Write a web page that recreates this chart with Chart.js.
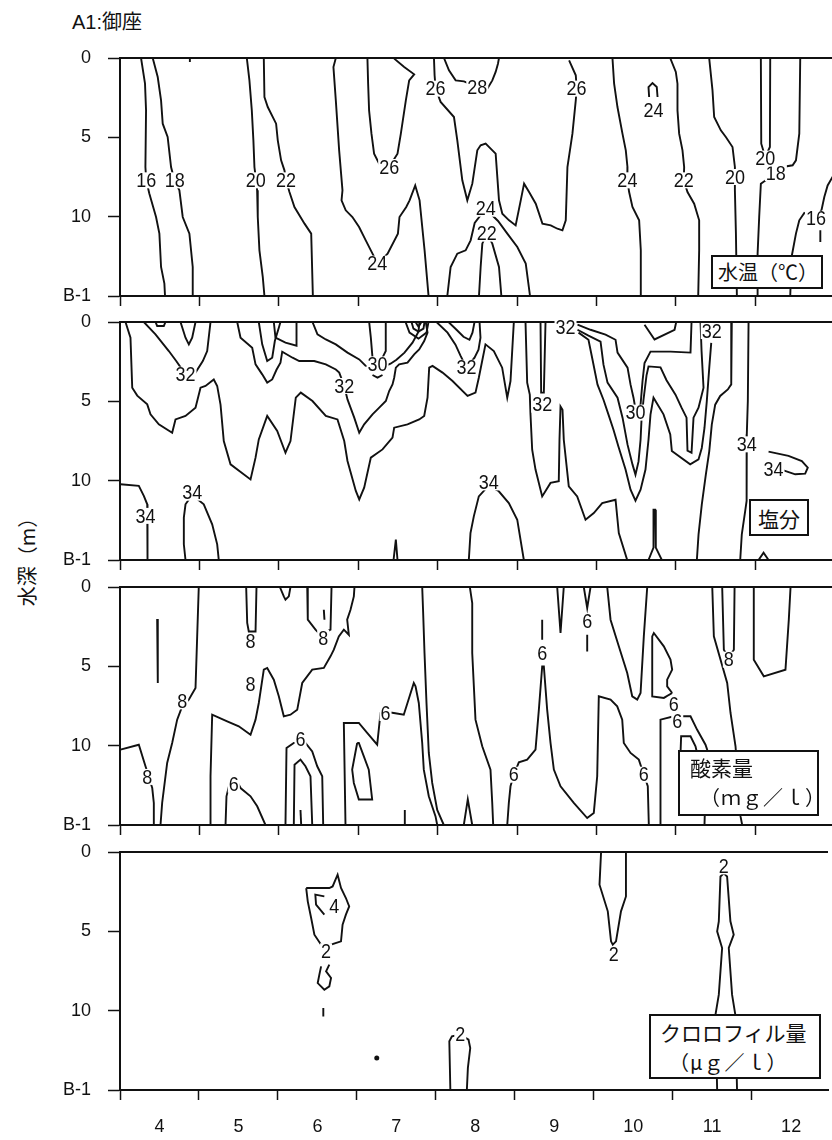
<!DOCTYPE html>
<html>
<head>
<meta charset="utf-8">
<script src="https://cdn.jsdelivr.net/npm/chart.js@4.4.1/dist/chart.umd.min.js"></script>
<style>
  body { margin: 0; background: #fff; }
  #page { position: relative; width: 832px; height: 1140px; overflow: hidden; color: #111;
          font-family: "Liberation Sans", Arial, "Noto Sans CJK JP", sans-serif; }
  canvas { position: absolute; left: 0; }
  .title { position: absolute; left: 72px; top: 6px; font-size: 20px; }
  .ytitle { position: absolute; left: 26px; top: 557px; transform: translate(-50%, -50%) rotate(-90deg);
            font-size: 20px; white-space: nowrap; font-family: "Noto Sans CJK JP", sans-serif; }
  .box { position: absolute; box-sizing: border-box; border: 2px solid #111; background: #fff; z-index: 2;
         font-family: "Noto Sans CJK JP", sans-serif; font-size: 20px; line-height: 1; }
  .box span { position: absolute; white-space: nowrap; }
</style>
</head>
<body>
<div id="page">
  <div class="title">A1:御座</div>
  <div class="ytitle">水深（m）</div>
  <canvas id="temp" width="832" height="264" style="top:44px"></canvas>
  <canvas id="salt" width="832" height="264" style="top:308px"></canvas>
  <canvas id="oxy" width="832" height="264" style="top:573px"></canvas>
  <canvas id="chl" width="832" height="302" style="top:838px"></canvas>
  <div class="box" style="left:711px;top:255px;width:112px;height:34px"><span style="left:5px;top:5px">水温（℃）</span></div>
  <div class="box" style="left:749px;top:499px;width:60px;height:37px"><span style="left:7px;top:7px;font-size:21px">塩分</span></div>
  <div class="box" style="left:678px;top:750px;width:141px;height:66px">
    <span style="left:10px;top:5px;font-size:21px">酸素量</span>
    <span style="left:20px;top:35px;letter-spacing:1px">（ｍｇ／ｌ）</span>
  </div>
  <div class="box" style="left:649px;top:1014px;width:172px;height:65px">
    <span style="left:9px;top:6px;font-size:21px">クロロフィル量</span>
    <span style="left:18px;top:36px;letter-spacing:1px">（μｇ／ｌ）</span>
  </div>
</div>
<script>
const INK = '#111';

// axes
const months = [4, 5, 6, 7, 8, 9, 10, 11, 12];
const monthEdges = [3.5, 4.5, 5.5, 6.5, 7.5, 8.5, 9.5, 10.5, 11.5];
const depthTicks = [0, 5, 10, 15];
const depthLabels = ['0', '5', '10', 'B-1'];

// 水温 contours: [month, depth]
const temp16 = [[3.765,0],[3.815,1.62],[3.828,3.3],[3.82,6.87],[3.83,7.7],[3.87,8.55],[3.954,10.02],[3.996,11.07],[4.017,13.17],[4.059,14.22],[4.067,15]];
const temp18 = [[3.912,0],[3.975,1.2],[4.017,2.67],[4.038,4.14],[4.1,4.98],[4.143,6.87],[4.185,7.71],[4.248,8.34],[4.29,10.02],[4.374,11.07],[4.416,13.17],[4.416,15]];
const temp18Notch = [[4.38,0],[4.38,0.25]];
const temp20 = [[5.097,0],[5.13,1.41],[5.16,3.3],[5.18,5.19],[5.193,6.87],[5.214,7.71],[5.227,8.34],[5.235,10.02],[5.256,12.12],[5.298,13.8],[5.319,15]];
const temp22 = [[5.311,0],[5.319,2.46],[5.361,3.09],[5.466,4.14],[5.487,5.19],[5.529,6.45],[5.571,7.08],[5.592,7.71],[5.634,8.45],[5.697,9.39],[5.824,10.44],[5.908,11.07],[5.929,15]];
const temp24West = [[6.218,0],[6.188,0.57],[6.218,2.67],[6.26,5.82],[6.302,8.34],[6.29,8.97],[6.343,9.6],[6.427,10.02],[6.511,10.65],[6.595,11.49],[6.68,12.33],[6.74,12.9],[6.79,12.75],[6.87,12.33],[7.0,11.07],[7.02,10.02],[7.105,9.39],[7.147,8.97],[7.218,8.03],[7.273,8.97],[7.336,12.12],[7.386,15]];
const temp26Loop = [[6.616,0],[6.625,1.62],[6.637,3.3],[6.667,4.77],[6.7,6.03],[6.764,6.66],[6.89,6.87],[6.995,6.03],[7.037,4.77],[7.1,2.67],[7.142,1.41],[7.205,1.03],[7.079,0.57],[6.953,0.04]];
const temp26 = [[7.454,0],[7.462,1.09],[7.475,1.93],[7.538,2.77],[7.706,3.72],[7.748,5.19],[7.811,7.71],[7.874,8.97],[7.937,7.92],[8.0,5.82],[8.042,5.5],[8.105,5.4],[8.168,5.71],[8.231,6.03],[8.273,8.97],[8.315,9.81],[8.4,10.23],[8.483,10.55],[8.547,8.97],[8.589,7.92],[8.652,8.45],[8.736,9.18],[8.82,10.44],[8.925,10.55],[9.009,10.76],[9.072,10.86],[9.114,10.23],[9.135,6.87],[9.198,4.77],[9.24,2.67],[9.252,1.93],[9.24,1.09],[9.156,0.15]];
const temp28 = [[7.58,0],[7.643,0.78],[7.727,1.41],[7.832,1.47],[8.0,1.83],[8.126,1.93],[8.189,1.41],[8.231,0.88],[8.26,0.36],[8.273,0]];
const temp24Arch = [[7.622,15],[7.664,13.17],[7.748,12.33],[7.853,12.12],[7.916,11.49],[7.967,10.4],[8.105,9.5],[8.261,10.27],[8.378,11.07],[8.504,11.91],[8.61,12.96],[8.664,15]];
const temp22Arch = [[8.021,15],[8.042,13.17],[8.063,11.7],[8.118,11.07],[8.189,11.7],[8.273,13.17],[8.303,15]];
const temp24East = [[9.702,0],[9.723,1.62],[9.765,3.09],[9.828,4.77],[9.87,5.82],[9.891,6.87],[9.89,7.71],[9.912,8.45],[9.954,9.39],[10.038,10.23],[10.059,12.12],[10.059,15]];
const temp24Ring = [[10.164,2.46],[10.156,1.83],[10.206,1.58],[10.26,1.83],[10.27,2.46]];
const temp22East = [[10.429,0],[10.5,0.88],[10.521,1.62],[10.521,3.3],[10.542,4.77],[10.584,5.82],[10.605,6.87],[10.6,7.71],[10.647,8.45],[10.731,9.18],[10.794,10.23],[10.794,12.12],[10.782,15]];
const temp20East = [[10.92,0],[10.962,2.04],[10.983,3.72],[11.067,4.56],[11.13,4.98],[11.214,5.61],[11.244,6.87],[11.244,7.5],[11.244,8.34],[11.257,11.07],[11.269,15]];
const temp20U = [[11.571,0],[11.576,5.4],[11.626,6.24],[11.685,5.61],[11.689,0]];
const temp18East = [[12.067,0],[12.055,4.77],[12.013,6.45],[11.971,6.76],[11.845,6.87],[11.76,7.25],[11.571,7.92],[11.55,10.02],[11.53,12.33],[11.53,15]];
const temp16East = [[12.479,7.46],[12.412,8.03],[12.37,8.76],[12.336,9.56],[12.265,10.13],[12.118,9.77],[12.055,10.23],[12.013,11.07],[11.958,12.54],[11.941,15]];
const temp16Tick = [[12.32,10.86],[12.32,11.6]];
const tempLabels = [[3.83,7.71,'16'],[4.19,7.71,'18'],[5.21,7.71,'20'],[5.59,7.71,'22'],[6.89,6.87,'26'],[6.74,12.96,'24'],
  [7.475,1.93,'26'],[8.0,1.83,'28'],[9.25,1.93,'26'],[8.105,9.5,'24'],[8.118,11.07,'22'],[9.89,7.71,'24'],[10.22,3.3,'24'],
  [10.6,7.71,'22'],[11.244,7.5,'20'],[11.76,7.25,'18'],[11.626,6.34,'20'],[12.265,10.13,'16']];

// 塩分 contours
const saltA = [[3.569,0],[3.632,0.99],[3.654,4.14],[3.717,4.64],[3.843,5.19],[3.884,5.82],[3.989,6.45],[4.157,6.98],[4.199,6.14],[4.325,5.92],[4.451,5.4],[4.514,4.14],[4.577,4.03],[4.681,3.62],[4.724,4.03],[4.766,5.21],[4.807,7.5],[4.892,8.97],[5.144,9.92],[5.207,8.55],[5.248,7.4],[5.354,5.92],[5.48,6.87],[5.584,8.24],[5.647,7.5],[5.714,4.77],[5.777,4.45],[5.924,4.98],[6.092,5.92],[6.239,6.14],[6.324,7.5],[6.365,8.76],[6.47,10.65],[6.513,11.18],[6.575,10.44],[6.659,8.55],[6.806,8.03],[6.932,7.29],[6.953,6.66],[7.121,6.45],[7.268,6.14],[7.331,5.92],[7.373,4.77],[7.394,2.88],[7.436,2.77],[7.562,3.19],[7.688,3.72],[7.877,4.66],[7.977,4.45],[8.019,3.51],[8.103,1.41],[8.208,1.83],[8.313,2.88],[8.377,4.77],[8.418,3.72],[8.46,0]];
const saltB = [[3.8,0],[3.947,0.78],[4.115,1.83],[4.208,2.46],[4.325,3.3],[4.451,3.19],[4.543,2.46],[4.598,1.83],[4.64,0]];
const saltCup = [[3.947,0],[3.968,0.25],[4.052,0.25],[4.073,0]];
const saltV = [[4.262,0],[4.325,0.99],[4.367,1.41],[4.409,0.99],[4.451,0]];
const saltC = [[4.976,0],[5.018,0.99],[5.165,1.62],[5.207,2.67],[5.291,3.3],[5.354,3.82],[5.417,3.62],[5.471,3.01],[5.521,2.56],[5.543,1.87],[5.673,2.25],[5.757,2.46],[5.946,2.46],[6.092,2.67],[6.218,2.99],[6.261,3.19],[6.324,4.03],[6.365,4.88],[6.45,6.03],[6.513,6.98],[6.575,6.45],[6.68,5.82],[6.765,5.4],[6.848,4.98],[6.89,4.35],[6.932,3.93],[6.953,3.51],[6.974,2.88],[7.016,2.67],[7.121,2.56],[7.205,2.04],[7.268,1.73],[7.331,1.2],[7.373,0.67],[7.351,0]];
const saltV2 = [[5.248,0],[5.291,1.41],[5.354,2.46],[5.417,2.25],[5.45,1.2],[5.5,0.36],[5.521,0]];
const saltV3 = [[5.437,0],[5.458,0.99],[5.584,1.3],[5.723,1.49],[5.723,0]];
const saltD = [[5.924,0],[5.987,0.78],[6.092,1.1],[6.218,1.41],[6.365,1.93],[6.513,2.36],[6.592,2.75],[6.743,3.0],[6.907,2.63],[6.982,2.38],[7.083,1.93],[7.184,1.3],[7.259,0.61],[7.272,0]];
const salt30a = [[6.638,0],[6.659,0.99],[6.68,2.25]];
const salt30b = [[6.847,0],[6.847,1.83],[6.806,2.25]];
const salt30Tip = [[6.68,3.34],[6.743,3.51],[6.806,3.34]];
const saltRing1 = [[7.096,0],[7.146,0.67],[7.259,1.05],[7.36,0.67],[7.385,0]];
const saltRing2 = [[7.171,0],[7.196,0.42],[7.259,0.61],[7.322,0.42],[7.335,0]];
const saltRing3 = [[7.222,0],[7.259,0.3],[7.297,0]];
const saltE = [[7.486,0],[7.625,0.67],[7.725,1.43],[7.788,2.12],[7.864,2.88],[7.965,2.25],[8.015,1.75],[8.04,0.99],[8.028,0]];
const saltF = [[7.637,0],[7.738,0.49],[7.826,0.93],[7.901,1.12],[7.939,0.67],[7.965,0]];
const saltG = [[8.607,0],[8.628,3.82],[8.661,4.58],[8.67,5.84],[8.691,8.05],[8.733,9.3],[8.817,10.99],[8.922,10.14],[9.026,10.04],[9.035,7.42],[9.048,5.32],[9.073,5.53],[9.089,7.42],[9.152,10.36],[9.258,10.99],[9.363,12.46],[9.467,12.04],[9.573,11.41],[9.741,11.2],[9.782,13.3],[9.888,15]];
const saltThin = [[8.796,0],[8.804,4.45],[8.838,4.45],[8.859,0]];
const salt30 = [[9.262,0.17],[9.426,0.49],[9.615,0.8],[9.741,1.12],[9.766,1.93],[9.892,2.88],[9.93,3.95],[9.967,4.77],[9.992,5.5],[10.056,5.21],[10.081,3.71],[10.106,2.58],[10.181,1.87],[10.433,1.87],[10.685,1.93],[10.698,0]];
const salt31 = [[9.262,0.49],[9.4,0.86],[9.552,1.24],[9.589,2.69],[9.64,3.82],[9.766,4.77],[9.829,6.03],[9.892,7.73],[9.955,8.99],[9.992,9.62],[10.03,8.8],[10.056,7.42],[10.068,6.16],[10.093,4.9],[10.131,3.36],[10.156,2.8],[10.307,2.86],[10.383,3.67],[10.496,4.58],[10.572,5.4],[10.635,6.03],[10.647,8.11],[10.698,8.24],[10.723,6.03],[10.786,5.4],[10.849,4.14],[10.824,1.81],[10.811,0]];
const salt32 = [[9.275,0.67],[9.4,1.12],[9.451,2.38],[9.514,3.95],[9.589,4.9],[9.652,5.84],[9.715,6.79],[9.778,7.86],[9.867,9.3],[9.93,10.57],[9.992,11.26],[10.056,10.57],[10.118,9.3],[10.156,7.42],[10.181,5.84],[10.219,4.77],[10.345,5.82],[10.43,7.08],[10.45,8.13],[10.681,8.97],[10.786,8.66],[10.827,7.94],[10.861,6.68],[10.89,5.0],[10.921,2.9],[10.946,1.32]];
const saltR = [[11.205,0],[11.198,3.93],[11.155,4.25],[11.059,4.66],[10.996,5.21],[10.953,6.47],[10.921,8.15],[10.878,9.62],[10.827,11.51],[10.786,13.4],[10.765,15]];
const saltTop = [[10.106,0.17],[10.232,1.1],[10.484,0.49],[10.505,0]];
const salt34East = [[11.416,0],[11.407,4.98],[11.394,7.08],[11.394,7.71],[11.394,8.55],[11.387,11.28],[11.374,11.91],[11.331,13.38],[11.311,15]];
const salt34Loop = [[11.668,8.17],[11.919,8.44],[12.087,8.76],[12.162,9.18],[12.129,9.56],[12.004,9.6],[11.856,9.35]];
const saltBump = [[11.542,15],[11.605,14.54],[11.668,15]];
const saltSpike10 = [[10.156,15],[10.219,14.22],[10.219,11.83],[10.24,11.83],[10.248,14.22],[10.324,15]];
const saltSpike7 = [[6.945,15],[6.974,13.72],[6.995,15]];
const salt34Aug = [[7.893,15],[7.914,13.3],[7.956,12.25],[8.019,10.99],[8.145,10.3],[8.271,10.67],[8.397,11.41],[8.503,12.46],[8.544,13.72],[8.586,15]];
const salt34May = [[4.325,15],[4.304,14.01],[4.304,12.33],[4.325,11.49],[4.409,10.9],[4.555,11.49],[4.661,12.75],[4.724,14.01],[4.744,15]];
const salt34West = [[3.506,10.23],[3.737,10.33],[3.8,10.96],[3.843,11.49],[3.843,12.85],[3.85,15]];
const saltLabels = [[4.325,3.32,'32'],[6.324,4.03,'32'],[6.743,2.67,'30'],[7.864,2.88,'32'],[8.817,5.21,'32'],[9.111,0.36,'32'],
  [9.992,5.71,'30'],[10.953,0.57,'32'],[11.394,7.71,'34'],[11.73,9.29,'34'],[3.821,12.22,'34'],[4.409,10.76,'34'],[8.145,10.11,'34']];

// 酸素量 contours
const oxyA = [[3.506,10.25],[3.737,9.94],[3.821,11.3],[3.906,12.67],[3.926,13.61],[3.926,15]];
const oxyTick = [[3.968,2.02],[3.976,6.05]];
const oxyB = [[4.492,0],[4.472,3.11],[4.451,6.36],[4.366,7.1],[4.283,7.52],[4.22,8.36],[4.157,9.83],[4.094,11.09],[4.031,13.61],[4.01,15]];
const oxyC = [[4.64,15],[4.64,11.93],[4.661,8.05],[4.85,8.47],[4.996,8.78],[5.144,9.31],[5.207,8.36],[5.248,7.31],[5.311,5.21],[5.354,5.1],[5.437,5.84],[5.5,6.89],[5.563,8.15],[5.647,8.05],[5.732,7.74],[5.795,6.05],[5.921,5.21],[6.067,5.1],[6.151,4.37],[6.193,3.95],[6.256,3.11],[6.319,2.69],[6.382,3.01],[6.361,2.06],[6.403,1.43],[6.445,0.59],[6.453,0]];
const oxyU = [[5.089,0],[5.102,2.27],[5.122,2.8],[5.207,2.8],[5.219,0]];
const oxyV = [[5.513,0],[5.563,0.59],[5.584,0.8],[5.626,0.59],[5.647,0]];
const oxyD = [[5.858,0],[5.865,2.06],[5.962,2.69],[6.025,3.01],[6.151,2.69],[6.164,0]];
const oxyMark = [[6.067,1.43],[6.075,2.06]];
const oxyE = [[4.829,15],[4.841,13.19],[4.892,12.14],[4.96,12.1],[5.018,12.67],[5.144,13.19],[5.228,13.82],[5.332,15]];
const oxyF = [[5.584,15],[5.597,10.14],[5.689,9.83],[5.836,9.83],[5.921,10.36],[5.984,11.3],[6.047,11.93],[6.059,15]];
const oxyG = [[5.689,15],[5.698,11.2],[5.773,10.88],[5.836,11.3],[5.899,11.93],[5.921,15]];
const oxyStub = [[5.773,14.05],[5.782,15]];
const oxyH = [[6.34,15],[6.319,8.57],[6.508,8.57],[6.613,9.2],[6.739,9.94],[6.781,7.94],[6.823,7.84],[6.948,7.94],[7.074,8.05],[7.2,6.05],[7.222,6.26],[7.263,7.31],[7.306,9.83],[7.326,11.51],[7.389,13.19],[7.474,14.46],[7.495,15]];
const oxyI = [[6.487,9.83],[6.424,11.51],[6.445,12.35],[6.508,13.39],[6.676,13.39],[6.633,11.51],[6.571,10.67],[6.508,9.83],[6.487,9.83]];
const oxyStub7 = [[7.087,14.05],[7.087,15]];
const oxyJul = [[7.306,0],[7.318,1.64],[7.335,4.16],[7.36,7.31],[7.389,10.46],[7.432,12.35],[7.495,14.05],[7.578,15]];
const oxyAug = [[7.906,0],[7.936,1.01],[7.936,4.16],[7.977,8.36],[8.062,10.04],[8.166,11.51],[8.188,13.61],[8.2,15]];
const oxySpike8 = [[7.83,15],[7.88,13.39],[7.936,15]];
const oxyV9a = [[9.006,0],[9.048,2.9],[9.089,0]];
const oxyV9b = [[9.341,0],[9.384,1.32],[9.426,0]];
const oxyStub9 = [[9.384,3.01],[9.384,4.06]];
const oxyStub8 = [[8.817,2.06],[8.817,3.32]];
const oxyJ = [[8.377,15],[8.397,13.61],[8.418,12.56],[8.46,11.83],[8.523,11.05],[8.628,10.88],[8.733,10.25],[8.775,7.74],[8.817,5.0],[8.838,5.0],[8.88,7.74],[8.922,9.83],[8.964,11.51],[9.048,12.56],[9.215,13.61],[9.384,14.56],[9.467,14.24],[9.51,11.93],[9.53,6.89],[9.678,7.1],[9.762,7.52],[9.825,8.36],[9.845,9.83],[9.93,10.46],[10.034,10.88],[10.097,11.83],[10.147,12.56],[10.16,15]];
const oxyK = [[9.636,0],[9.678,2.06],[9.782,3.74],[9.888,5.42],[9.951,6.89],[10.014,7.1],[10.056,6.68],[10.097,3.11],[10.14,0]];
const oxyL = [[10.454,6.68],[10.349,6.99],[10.203,6.89],[10.203,3.11],[10.223,2.9],[10.349,3.74],[10.433,4.58],[10.454,5.21],[10.391,5.84],[10.391,6.26],[10.454,6.68]];
const oxyM = [[10.307,15],[10.307,8.36],[10.475,8.15],[10.685,8.15],[10.769,9.0],[10.874,9.94],[10.895,10.25],[10.874,12.77],[10.861,15]];
const oxyN = [[10.559,10.5],[10.567,9.41],[10.685,9.41],[10.748,10.04],[10.786,10.88],[10.79,11.5]];
const oxyP = [[10.959,0],[10.979,3.11],[11.147,6.05],[11.189,7.94],[11.252,10.04],[11.315,14.46],[11.336,15]];
const oxyU11 = [[11.084,0],[11.105,3.95],[11.164,4.5],[11.231,3.95],[11.24,0]];
const oxyQ = [[11.482,0],[11.482,4.58],[11.608,5.63],[11.881,5.21],[11.923,2.06],[11.945,0]];
const oxyLabels = [[3.843,11.97,'8'],[4.283,7.21,'8'],[5.144,6.15,'8'],[5.144,3.43,'8'],[6.059,3.21,'8'],[11.168,4.58,'8'],
  [4.933,12.46,'6'],[5.773,9.62,'6'],[6.844,7.94,'6'],[9.384,2.17,'6'],[8.817,4.16,'6'],[8.46,11.83,'6'],
  [10.097,11.83,'6'],[10.518,8.47,'6'],[10.475,7.42,'6']];

// クロロフィル量 contours
const chlLoop = [[5.858,2.27],[5.878,3.11],[5.921,4.16],[5.962,5.21],[6.047,5.84],[6.11,6.2],[6.173,5.84],[6.299,5.63],[6.319,4.58],[6.361,3.95],[6.403,3.43],[6.361,2.9],[6.299,2.27],[6.256,1.43],[6.193,2.17],[6.151,2.27],[5.858,2.27]];
const chl4 = [[6.088,3.95],[5.983,3.32],[5.974,2.69],[6.088,2.8]];
const chlS = [[6.151,7.1],[6.11,7.52],[6.173,7.94],[6.151,8.47],[6.088,8.68],[6.004,8.26],[6.025,7.73],[6.047,7.21]];
const chlTick = [[6.075,9.83],[6.075,10.36]];
const chlDot = [[6.752,12.98]];
const chlAug = [[7.684,15],[7.671,11.93],[7.704,11.62],[7.81,11.5],[7.914,11.83],[7.936,12.35],[7.906,13.61],[7.893,15]];
const chlOct = [[9.593,0],[9.573,2.06],[9.678,3.74],[9.719,5.63],[9.741,5.84],[9.782,5.63],[9.845,3.74],[9.908,2.8],[9.908,0]];
const chlNov = [[11.063,15],[11.042,10.25],[11.084,8.99],[11.126,6.05],[11.063,5.0],[11.084,4.37],[11.105,1.54],[11.147,1.35],[11.189,1.54],[11.231,4.37],[11.273,5.21],[11.21,6.05],[11.252,8.99],[11.293,10.25],[11.315,15]];
const chlLabels = [[6.11,6.26,'2'],[6.214,3.43,'4'],[7.81,11.51,'2'],[9.753,6.47,'2'],[11.147,0.91,'2']];

const xTicks = [...monthEdges, ...months].sort((a, b) => a - b);

// contour numbers with a white gap behind them, and the top frame line
const contourText = {
  id: 'contourText',
  afterDatasetsDraw(chart, args, opts) {
    const { ctx, chartArea: a, scales: { x, y } } = chart;
    ctx.save();
    ctx.strokeStyle = INK;
    ctx.lineWidth = 2;
    ctx.beginPath();
    ctx.moveTo(a.left, a.top);
    ctx.lineTo(a.right, a.top);
    ctx.stroke();
    ctx.font = '18px "Liberation Sans", Arial, sans-serif';
    ctx.textAlign = 'center';
    ctx.textBaseline = 'middle';
    for (const [m, d, t] of opts.labels) {
      const px = x.getPixelForValue(m), py = y.getPixelForValue(d);
      const w = ctx.measureText(t).width;
      ctx.fillStyle = '#fff';
      ctx.fillRect(px - w / 2 - 1, py - 8, w + 2, 16);
      ctx.save();
      ctx.translate(px, py + 1);
      ctx.scale(1, 1.15);
      ctx.fillStyle = INK;
      ctx.fillText(t, 0, 0);
      ctx.restore();
    }
    ctx.restore();
  }
};

function panel(id, lines, labels, dots, bottomLabels) {
  const datasets = lines.map(pts => ({
    data: pts.map(([m, d]) => ({ x: m, y: d })),
    borderColor: INK, borderWidth: 1.9, pointRadius: 0, tension: 0, fill: false
  }));
  if (dots) {
    datasets.push({
      data: dots.map(([m, d]) => ({ x: m, y: d })),
      showLine: false, pointRadius: 2.5, pointBackgroundColor: INK, pointBorderWidth: 0
    });
  }
  const canvas = document.getElementById(id);
  new Chart(canvas, {
    type: 'line',
    data: { datasets },
    plugins: [contourText],
    options: {
      responsive: false, animation: false, events: [],
      layout: { padding: { top: 14, left: 0, right: 0, bottom: 0 } },
      plugins: { legend: { display: false }, tooltip: { enabled: false }, contourText: { labels } },
      scales: {
        x: {
          type: 'linear', min: 3.5, max: 12.467,
          afterBuildTicks: s => { s.ticks = xTicks.map(v => ({ value: v })); },
          afterFit: s => { s.height = canvas.height - 14 - 238; s.paddingLeft = 0; s.paddingRight = 0; },
          border: { color: INK, width: 2 },
          grid: {
            drawOnChartArea: false, tickLength: 10, tickWidth: 1.5,
            tickColor: c => months.includes(c.tick.value) ? 'rgba(0,0,0,0)' : INK
          },
          ticks: {
            autoSkip: false, maxRotation: 0, padding: 16, color: INK,
            font: { family: '"Liberation Sans", Arial, sans-serif', size: 18 },
            callback: v => (bottomLabels && months.includes(v)) ? String(v) : ''
          }
        },
        y: {
          type: 'linear', reverse: true, min: 0, max: 15,
          afterBuildTicks: s => { s.ticks = depthTicks.map(v => ({ value: v })); },
          // fixed width so every panel starts at the same x; label padding must not push the plot down
          afterFit: s => { s.width = 120; s.paddingTop = 10; s.paddingBottom = 10; },
          border: { color: INK, width: 2 },
          grid: { drawOnChartArea: false, tickLength: 12, tickWidth: 1.5, tickColor: INK },
          ticks: {
            padding: 17, color: INK,
            font: { family: '"Liberation Sans", Arial, sans-serif', size: 18 },
            callback: v => depthLabels[depthTicks.indexOf(v)]
          }
        }
      }
    }
  });
}

panel('temp', [temp16, temp18, temp18Notch, temp20, temp22, temp24West, temp26Loop, temp26, temp28, temp24Arch,
  temp22Arch, temp24East, temp24Ring, temp22East, temp20East, temp20U, temp18East, temp16East, temp16Tick], tempLabels);
panel('salt', [saltA, saltB, saltCup, saltV, saltC, saltV2, saltV3, saltD, salt30a, salt30b, salt30Tip, saltRing1,
  saltRing2, saltRing3, saltE, saltF, saltG, saltThin, salt30, salt31, salt32, saltR, saltTop, salt34East,
  salt34Loop, saltBump, saltSpike10, saltSpike7, salt34Aug, salt34May, salt34West], saltLabels);
panel('oxy', [oxyA, oxyTick, oxyB, oxyC, oxyU, oxyV, oxyD, oxyMark, oxyE, oxyF, oxyG, oxyStub, oxyH, oxyI, oxyStub7,
  oxyJul, oxyAug, oxySpike8, oxyV9a, oxyV9b, oxyStub9, oxyStub8, oxyJ, oxyK, oxyL, oxyM, oxyN, oxyP, oxyU11, oxyQ], oxyLabels);
panel('chl', [chlLoop, chl4, chlS, chlTick, chlAug, chlOct, chlNov], chlLabels, chlDot, true);
</script>
</body>
</html>
